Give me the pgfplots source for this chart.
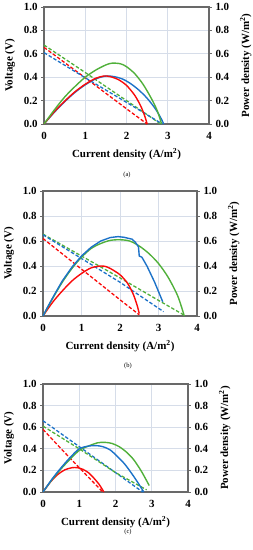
\documentclass[border=0pt]{standalone}
\usepackage{pgfplots}
\pgfplotsset{compat=1.18}
\usepackage{fontspec}
\setmainfont{Liberation Serif}
\definecolor{cgreen}{RGB}{80,176,58}
\definecolor{cblue}{RGB}{28,114,200}
\definecolor{cred}{RGB}{250,10,10}
\definecolor{cgrid}{RGB}{214,221,233}
\definecolor{caxis}{RGB}{105,105,105}
\pgfplotsset{
  base/.style={scale only axis, xmin=0, xmax=4, ymin=0, ymax=1,
    anchor=south west,
    axis line style={draw=caxis, line width=1.1pt, -},
    ytick={0,0.2,...,1.0}, xtick={0,1,2,3,4},
    tick align=outside, major tick length=3pt,
    ytick style={draw=caxis, line width=0.8pt},
    xtick style={draw=none},
    /pgf/number format/assume math mode=true,
    tick label style={font=\bfseries\fontsize{11}{12}\selectfont},
    xticklabel style={yshift=-2pt},
    yticklabel style={/pgf/number format/.cd, fixed, fixed zerofill, precision=1},
    label style={font=\bfseries\fontsize{11}{12}\selectfont},
    clip=false},
  leftax/.style={base, ytick pos=left,
    grid=major, major grid style={draw=cgrid, line width=0.7pt},
    xlabel={Current density (A/m\textsuperscript{2})}, ylabel={Voltage (V)},
    xlabel style={yshift=-2pt}, ylabel style={yshift=2pt}},
  rightax/.style={base, axis x line=none, axis y line*=right,
    ylabel={Power density (W/m\textsuperscript{2})}, ylabel style={yshift=-4pt}},
  vl/.style={line width=1.3pt, dash pattern=on 3.5pt off 2pt},
  pl/.style={line width=1.4pt, smooth, tension=0.5},
}
\begin{document}
\begin{tikzpicture}
\useasboundingbox (0,0) rectangle (253bp,-550bp);
% ---------------- (a)
\begin{axis}[leftax, at={(44bp,-124bp)}, width=165bp, height=117bp]
\addplot[vl, cgreen] coordinates {(0,0.675) (1,0.44) (2,0.20) (2.83,0)};
\addplot[vl, cred] coordinates {(0,0.655) (1,0.395) (2,0.13) (2.5,0)};
\addplot[vl, cblue] coordinates {(0,0.61) (1,0.395) (2,0.185) (2.87,0)};
\end{axis}
\begin{axis}[rightax, at={(44bp,-124bp)}, width=165bp, height=117bp]
\addplot[pl, cblue] coordinates {(0,0) (0.25,0.10) (0.5,0.19) (0.75,0.27) (1.0,0.335) (1.25,0.385) (1.5,0.41) (1.7,0.405) (1.9,0.385) (2.1,0.345) (2.3,0.29) (2.5,0.22) (2.7,0.13) (2.85,0.04) (2.9,0.0)};
\addplot[pl, cred] coordinates {(0,0) (0.25,0.105) (0.5,0.195) (0.75,0.275) (1.0,0.34) (1.25,0.39) (1.45,0.41) (1.6,0.405) (1.8,0.38) (2.0,0.33) (2.2,0.245) (2.35,0.15) (2.45,0.06) (2.5,0.0)};
\addplot[pl, cgreen] coordinates {(0,0) (0.25,0.12) (0.5,0.23) (0.75,0.32) (1.0,0.40) (1.25,0.46) (1.5,0.505) (1.65,0.52) (1.85,0.515) (2.0,0.49) (2.2,0.43) (2.4,0.34) (2.6,0.22) (2.75,0.11) (2.85,0.0)};
\end{axis}
\node[font=\fontsize{6.5}{7}\selectfont] at (127bp,-175bp) {(a)};
% ---------------- (b)
\begin{axis}[leftax, at={(43bp,-316bp)}, width=154bp, height=125bp]
\addplot[vl, cgreen] coordinates {(0,0.655) (1,0.48) (2,0.305) (3,0.125) (3.65,0.01)};
\addplot[vl, cred] coordinates {(0,0.62) (1,0.375) (2,0.13) (2.5,0.01)};
\addplot[vl, cblue] coordinates {(0,0.65) (1,0.46) (2,0.27) (3.13,0.035)};
\end{axis}
\begin{axis}[rightax, at={(43bp,-316bp)}, width=154bp, height=125bp]
\addplot[pl, cred] coordinates {(0,0) (0.25,0.11) (0.5,0.20) (0.75,0.28) (1.0,0.34) (1.25,0.385) (1.5,0.40) (1.64,0.395) (1.75,0.38) (2.0,0.33) (2.2,0.26) (2.35,0.17) (2.45,0.08) (2.5,0.02)};
\addplot[pl, cgreen] coordinates {(0,0) (0.25,0.14) (0.5,0.27) (0.75,0.38) (1.0,0.47) (1.25,0.54) (1.5,0.58) (1.75,0.605) (2.0,0.61) (2.25,0.60) (2.5,0.56) (2.75,0.50) (3.0,0.42) (3.25,0.31) (3.5,0.16) (3.67,0.0)};
\addplot[line width=1.4pt, cblue] coordinates {(0,0) (0.1,0.06) (0.25,0.145) (0.5,0.28) (0.75,0.39) (1.0,0.48) (1.25,0.55) (1.5,0.60) (1.75,0.628) (1.95,0.635) (2.1,0.63) (2.31,0.615) (2.4,0.59) (2.48,0.553) (2.5,0.48) (2.57,0.47) (2.7,0.40) (2.9,0.27) (3.11,0.114)};
\end{axis}
\node[font=\fontsize{6.5}{7}\selectfont] at (128bp,-366bp) {(b)};
% ---------------- (c)
\begin{axis}[leftax, at={(43bp,-492bp)}, width=145bp, height=108bp]
\addplot[vl, cblue] coordinates {(0,0.66) (1,0.42) (2,0.18) (2.75,0)};
\addplot[vl, cgreen] coordinates {(0,0.61) (1,0.40) (2,0.18) (2.86,0.02)};
\addplot[vl, cred] coordinates {(0,0.58) (0.5,0.40) (1,0.225) (1.65,0)};
\end{axis}
\begin{axis}[rightax, at={(43bp,-492bp)}, width=145bp, height=108bp]
\addplot[pl, cred] coordinates {(0,0) (0.2,0.09) (0.4,0.16) (0.6,0.205) (0.8,0.225) (0.95,0.225) (1.1,0.21) (1.25,0.18) (1.4,0.13) (1.55,0.07) (1.68,0.0)};
\addplot[pl, cgreen] coordinates {(0,0) (0.25,0.115) (0.5,0.215) (0.75,0.305) (1.0,0.385) (1.25,0.425) (1.5,0.455) (1.7,0.46) (1.9,0.45) (2.1,0.42) (2.3,0.37) (2.5,0.30) (2.7,0.20) (2.85,0.11) (2.93,0.06)};
\addplot[pl, cblue] coordinates {(0,0) (0.25,0.12) (0.5,0.225) (0.75,0.32) (1.0,0.40) (1.25,0.425) (1.45,0.43) (1.65,0.42) (1.85,0.39) (2.05,0.33) (2.25,0.26) (2.45,0.17) (2.65,0.07) (2.78,0.0)};
\end{axis}
\node[font=\fontsize{6.5}{7}\selectfont] at (128bp,-532bp) {(c)};
\end{tikzpicture}
\end{document}
